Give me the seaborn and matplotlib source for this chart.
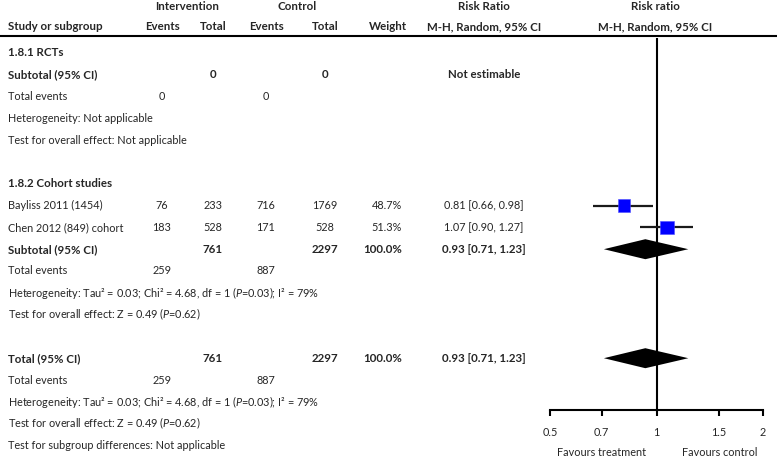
import matplotlib
matplotlib.use("Agg")
import matplotlib.pyplot as plt
import pandas as pd
import seaborn as sns

# ---- table content, one entry per row ----
row_labels = [
    "1.8.1 RCTs", "Subtotal (95% CI)", "Total events",
    "Heterogeneity: Not applicable", "Test for overall effect: Not applicable", "",
    "1.8.2 Cohort studies", "Bayliss 2011 (1454)", "Chen 2012 (849) cohort",
    "Subtotal (95% CI)", "Total events",
    "Heterogeneity: Tau² = 0.03; Chi² = 4.68, df = 1 ($\\mathit{P}$=0.03); I² = 79%",
    "Test for overall effect: Z = 0.49 ($\\mathit{P}$=0.62)", "",
    "Total (95% CI)", "Total events",
    "Heterogeneity: Tau² = 0.03; Chi² = 4.68, df = 1 ($\\mathit{P}$=0.03); I² = 79%",
    "Test for overall effect: Z = 0.49 ($\\mathit{P}$=0.62)",
    "Test for subgroup differences: Not applicable",
]
bold_rows = [0, 1, 6, 9, 14]
int_events = ["", "", "0", "", "", "", "", "76", "183", "", "259", "", "", "", "", "259", "", "", ""]
int_total = ["", "0", "", "", "", "", "", "233", "528", "761", "", "", "", "", "761", "", "", "", ""]
ctrl_events = ["", "", "0", "", "", "", "", "716", "171", "", "887", "", "", "", "", "887", "", "", ""]
ctrl_total = ["", "0", "", "", "", "", "", "1769", "528", "2297", "", "", "", "", "2297", "", "", "", ""]
weight_txt = ["", "", "", "", "", "", "", "48.7%", "51.3%", "100.0%", "", "", "", "", "100.0%", "", "", "", ""]
rr_txt = ["", "Not estimable", "", "", "", "", "", "0.81 [0.66, 0.98]", "1.07 [0.90, 1.27]",
          "0.93 [0.71, 1.23]", "", "", "", "", "0.93 [0.71, 1.23]", "", "", "", ""]

# ---- forest data ----
study_rows = [7, 8]
study_rr = [0.81, 1.07]
study_lo = [0.66, 0.90]
study_hi = [0.98, 1.27]
study_weight = [48.7, 51.3]
pooled_rows = [9, 14]
pooled_rr = [0.93, 0.93]
pooled_lo = [0.71, 0.71]
pooled_hi = [1.23, 1.23]
x_ticks = [0.5, 0.7, 1, 1.5, 2]
x_tick_labels = ["0.5", "0.7", "1", "1.5", "2"]

sns.set_theme(style="white")
plt.rcParams["font.family"] = ["Lato", "DejaVu Sans"]
plt.rcParams["mathtext.fontset"] = "custom"
plt.rcParams["mathtext.rm"] = "Lato"
plt.rcParams["mathtext.it"] = "Lato:italic"
plt.rcParams["mathtext.bf"] = "Lato:bold"

W, H = 777, 458
fs = 7.8
fs_b = 8.3
fig = plt.figure(figsize=(W / 100, H / 100), dpi=100)

# text layer in pixel coordinates
ax_t = fig.add_axes([0, 0, 1, 1])
ax_t.set_xlim(0, W)
ax_t.set_ylim(H, 0)
ax_t.axis("off")

row_y = [53 + 21.8 * k for k in range(len(row_labels))]

# headers
ax_t.text(187, 7, "Intervention", ha="center", va="center", fontsize=fs_b, fontweight="bold")
ax_t.text(297, 7, "Control", ha="center", va="center", fontsize=fs_b, fontweight="bold")
ax_t.text(484, 7, "Risk Ratio", ha="center", va="center", fontsize=fs_b, fontweight="bold")
ax_t.text(655, 7, "Risk ratio", ha="center", va="center", fontsize=fs_b, fontweight="bold")
hdr_y = 27
ax_t.text(8, hdr_y, "Study or subgroup", ha="left", va="center", fontsize=fs_b, fontweight="bold")
for xc, lab in [(162, "Events"), (213, "Total"), (266, "Events"), (325, "Total"),
                (388, "Weight"), (484, "M-H, Random, 95% CI"), (655, "M-H, Random, 95% CI")]:
    ax_t.text(xc, hdr_y, lab, ha="center", va="center", fontsize=fs_b, fontweight="bold")
ax_t.axhline(36, color="black", lw=1.5)

for i, y in enumerate(row_y):
    bold = i in bold_rows
    fw = "bold" if bold else "normal"
    size = fs_b if bold else fs
    ax_t.text(8, y, row_labels[i], ha="left", va="center", fontsize=size, fontweight=fw)
    ax_t.text(162, y, int_events[i], ha="center", va="center", fontsize=size, fontweight=fw)
    ax_t.text(213, y, int_total[i], ha="center", va="center", fontsize=size, fontweight=fw)
    ax_t.text(266, y, ctrl_events[i], ha="center", va="center", fontsize=size, fontweight=fw)
    ax_t.text(325, y, ctrl_total[i], ha="center", va="center", fontsize=size, fontweight=fw)
    ax_t.text(402, y, weight_txt[i], ha="right", va="center", fontsize=size, fontweight=fw)
    ax_t.text(484, y, rr_txt[i], ha="center", va="center", fontsize=size, fontweight=fw)

ax_t.text(602, 452, "Favours treatment", ha="center", va="center", fontsize=fs)
ax_t.text(720, 452, "Favours control", ha="center", va="center", fontsize=fs)

# forest panel: x 0.5..2 on log scale, spans pixels 550..763, y 38..410
ax_f = fig.add_axes([550 / W, (H - 410) / H, 213 / W, (410 - 38) / H])
ax_f.patch.set_alpha(0)
ax_f.set_xscale("log")
ax_f.set_xlim(0.5, 2)
ax_f.set_ylim(410, 38)

df = pd.DataFrame({
    "rr": study_rr, "lo": study_lo, "hi": study_hi, "weight": study_weight,
    "y": [row_y[r] for r in study_rows],
})
ax_f.hlines(df["y"], df["lo"], df["hi"], color="#1a1a1a", lw=1.6, zorder=2)
sns.scatterplot(data=df, x="rr", y="y", size="weight", sizes=(84, 92), marker="s",
                color="#0000ff", edgecolor="#4d4dff", linewidth=0.4, legend=False,
                zorder=3, ax=ax_f)

half_h = 10
for r, est, lo, hi in zip(pooled_rows, pooled_rr, pooled_lo, pooled_hi):
    y = row_y[r]
    ax_f.fill([lo, est, hi, est], [y, y - half_h, y, y + half_h], color="black", lw=0, zorder=3)

ax_f.axvline(1, color="black", lw=1.5, zorder=1)

for side in ["top", "right", "left"]:
    ax_f.spines[side].set_visible(False)
ax_f.spines["bottom"].set_color("black")
ax_f.spines["bottom"].set_linewidth(1.5)
ax_f.set_xticks(x_ticks)
ax_f.set_xticklabels(x_tick_labels)
ax_f.xaxis.set_minor_locator(matplotlib.ticker.NullLocator())
ax_f.tick_params(axis="x", direction="out", length=4.5, width=1.5, color="black",
                 labelsize=fs, pad=8, bottom=True)
ax_f.set_yticks([])
ax_f.set_xlabel("")
ax_f.set_ylabel("")

fig.savefig("out.png", dpi=100)
